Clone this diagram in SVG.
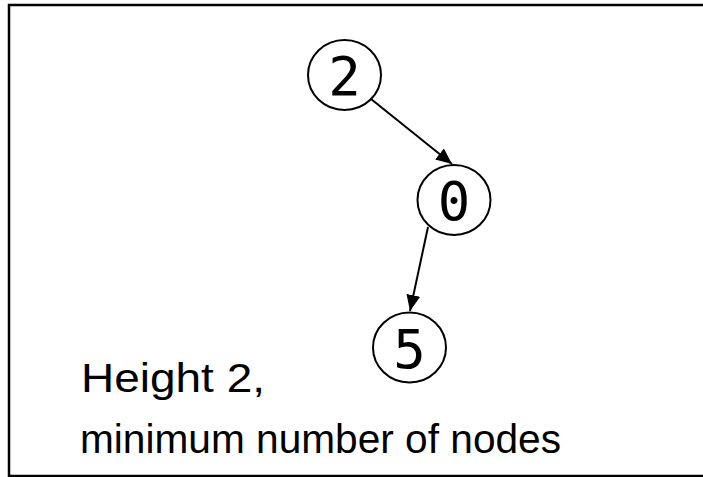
<svg xmlns="http://www.w3.org/2000/svg" width="703" height="477" viewBox="0 0 703 477">
  <style>
    .node ellipse { fill: #fff; stroke: #000; stroke-width: 2; }
    .node text { font-family: "DejaVu Sans Mono", monospace; font-size: 54px; text-anchor: middle; fill: #000; }
    .edge { stroke: #000; stroke-width: 2; fill: none; marker-end: url(#arrowhead); }
    .caption { font-family: "Liberation Sans", Arial, sans-serif; font-size: 41px; fill: #000; }
  </style>
  <defs>
    <marker id="arrowhead" viewBox="0 0 16 14" refX="16" refY="7" markerWidth="16" markerHeight="14" markerUnits="userSpaceOnUse" orient="auto">
      <path d="M0,0 L16,7 L0,14 z" fill="#000"/>
    </marker>
  </defs>

  <!-- open frame: top, left and bottom edges -->
  <path d="M720,5 L9,5 L9,476 L720,476" fill="none" stroke="#000" stroke-width="2.5"/>

  <g id="connectors">
    <line class="edge" x1="371" y1="99" x2="452" y2="164"/>
    <line class="edge" x1="428" y1="227" x2="410" y2="311"/>
  </g>

  <g id="node-2" class="node">
    <ellipse cx="344.5" cy="75" rx="36.5" ry="35"/>
    <text x="344.5" y="95">2</text>
  </g>
  <g id="node-0" class="node">
    <ellipse cx="454" cy="200" rx="36.5" ry="35"/>
    <text x="454" y="220">0</text>
  </g>
  <g id="node-5" class="node">
    <ellipse cx="409.5" cy="347.5" rx="36.5" ry="35"/>
    <text x="409.5" y="367.5">5</text>
  </g>

  <g id="caption">
    <text class="caption" x="81" y="392" textLength="184" lengthAdjust="spacingAndGlyphs">Height 2,</text>
    <text class="caption" x="80" y="453" textLength="481" lengthAdjust="spacingAndGlyphs">minimum number of nodes</text>
  </g>
</svg>
